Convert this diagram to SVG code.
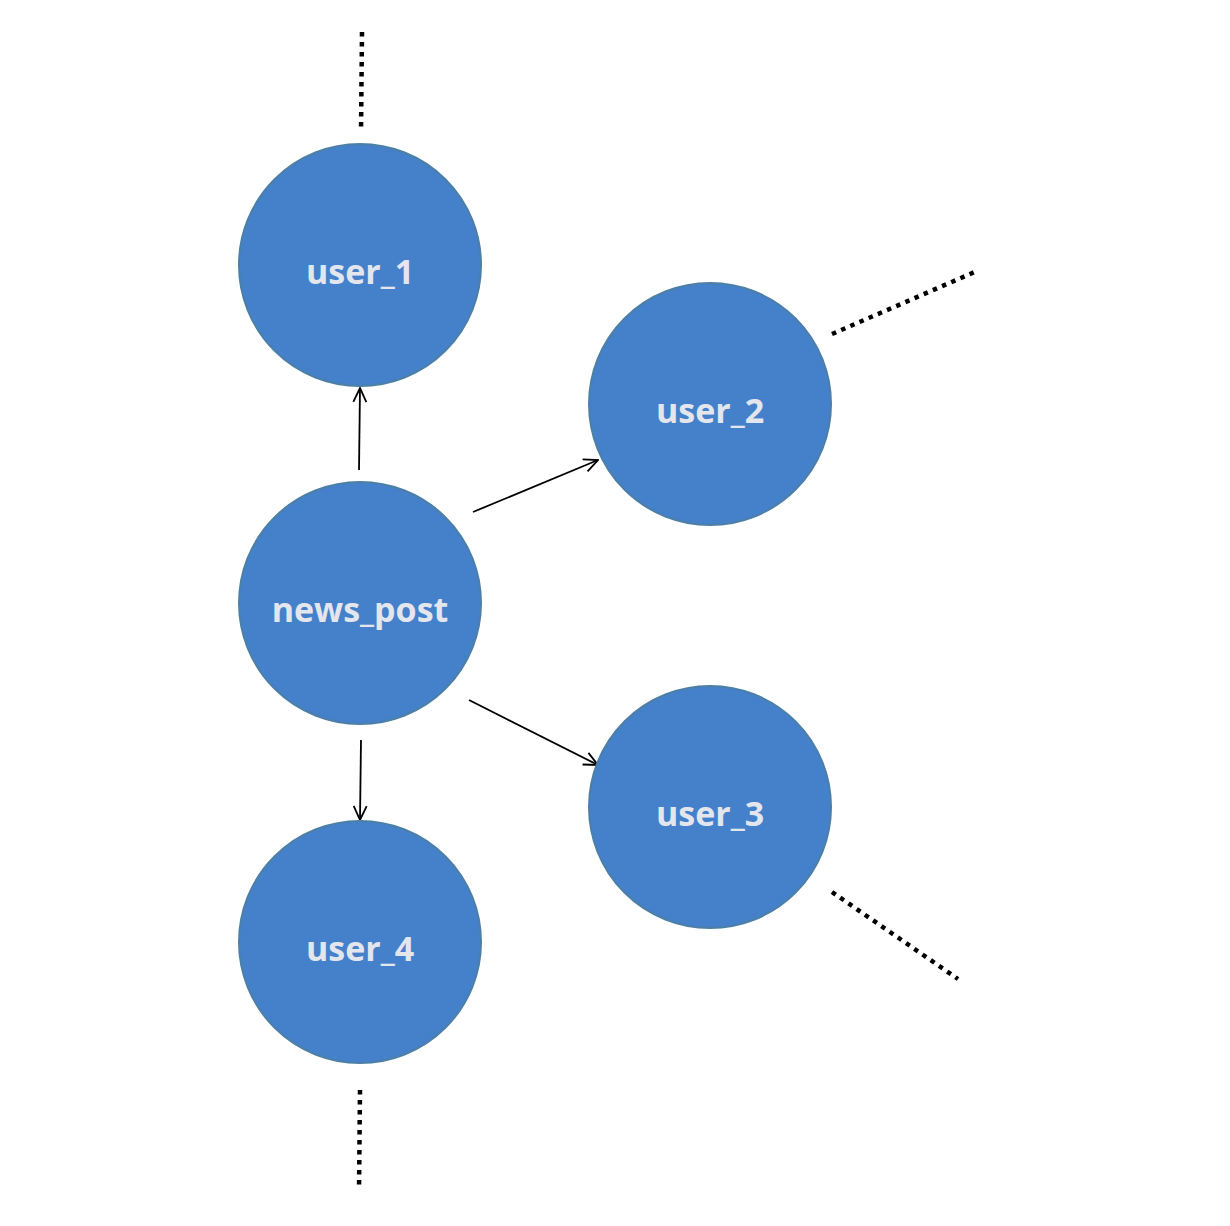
<svg xmlns="http://www.w3.org/2000/svg" width="1230" height="1226" viewBox="0 0 1230 1226">
<defs>
<style>
.node circle{fill:#4581CB;stroke:#4C7FA6;stroke-width:2}
.node text{font-family:"Open Sans",sans-serif;font-weight:bold;font-size:34px;fill:#E4E6EE;text-anchor:middle}
.edge{stroke:#000;stroke-width:1.8;fill:none;marker-end:url(#arr)}
.dot{stroke:#000;stroke-width:4.5;stroke-dasharray:4.5 5.5;fill:none}
</style>
<marker id="arr" viewBox="0 0 16 16" refX="15" refY="8" markerWidth="16" markerHeight="16" markerUnits="userSpaceOnUse" orient="auto">
<path d="M1,1.5 L15,8 L1,14.5" fill="none" stroke="#000" stroke-width="1.8"/>
</marker>
</defs>
<rect width="1230" height="1226" fill="#fff"/>
<g id="connectors">
<line class="edge" x1="359" y1="470" x2="360" y2="388"/>
<line class="edge" x1="473" y1="512" x2="598" y2="460"/>
<line class="edge" x1="469" y1="700" x2="598" y2="765"/>
<line class="edge" x1="361" y1="740" x2="360" y2="820"/>
<line class="dot" x1="362" y1="32" x2="361" y2="131"/>
<line class="dot" x1="360" y1="1090" x2="359" y2="1190"/>
<line class="dot" x1="832" y1="334" x2="977" y2="271"/>
<line class="dot" x1="832" y1="892" x2="958" y2="979"/>
</g>
<g id="user_1" class="node"><circle cx="360" cy="265" r="121"/><text x="360" y="284">user_1</text></g>
<g id="user_2" class="node"><circle cx="710" cy="404" r="121"/><text x="710" y="423">user_2</text></g>
<g id="news_post" class="node"><circle cx="360" cy="603" r="121"/><text x="360" y="622">news_post</text></g>
<g id="user_3" class="node"><circle cx="710" cy="807" r="121"/><text x="710" y="826">user_3</text></g>
<g id="user_4" class="node"><circle cx="360" cy="942" r="121"/><text x="360" y="961">user_4</text></g>
</svg>
